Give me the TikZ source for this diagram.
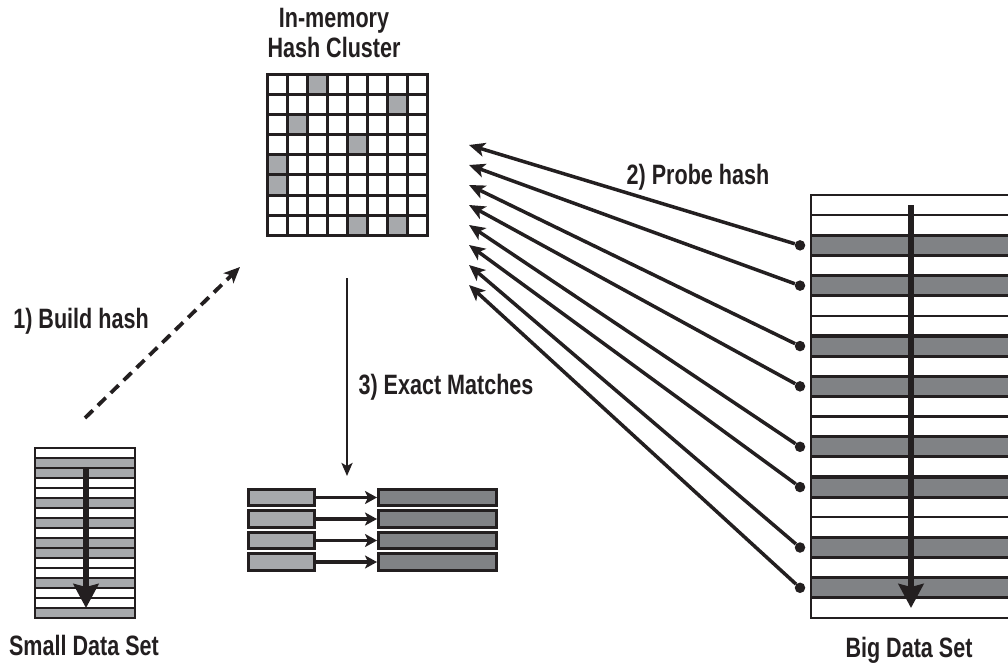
\documentclass[tikz,border=0pt]{standalone}
\usepackage{fontspec}
\setmainfont{Liberation Sans Bold}[FakeStretch=0.77]
\usetikzlibrary{arrows.meta}
\definecolor{ink}{RGB}{35,31,32}
\definecolor{lightfill}{RGB}{167,169,172}
\definecolor{darkfill}{RGB}{128,130,133}
\tikzset{
  lbl/.style={font=\fontsize{28}{32}\selectfont, text=ink, inner sep=0pt, anchor=base},
  gridline/.style={draw=ink, line width=3pt, line cap=rect},
  rowline/.style={draw=ink, line width=2.8pt},
  scanarrow/.style={draw=ink, line width=6.5pt, -{Stealth[length=24pt,width=25pt,inset=3pt]}},
  probe/.style={draw=ink, line width=3.5pt, -{Stealth[length=16pt,width=14pt,inset=4pt]}},
  dot/.style={circle, fill=ink, inner sep=0pt, minimum size=10.5pt},
  buildarrow/.style={draw=ink, line width=3.8pt, dash pattern=on 11pt off 7pt, -{Stealth[length=16pt,width=14pt,inset=4pt]}},
  downarrow/.style={draw=ink, line width=2.6pt, -{Stealth[length=13pt,width=11pt,inset=3pt]}},
  matcharrow/.style={draw=ink, line width=3.5pt, -{Stealth[length=12pt,width=13pt,inset=3pt]}},
  keybox/.style={draw=ink, line width=3pt, fill=lightfill, minimum width=66pt, minimum height=16.5pt, inner sep=0pt},
  rowbox/.style={draw=ink, line width=3pt, fill=darkfill, minimum width=118pt, minimum height=16.5pt, inner sep=0pt},
}
\begin{document}
\begin{tikzpicture}[x=1pt,y=-1pt]
\useasboundingbox (0,0) rectangle (1008,663);

% ---- in-memory hash cluster: 8x8 bucket grid ----
\node[lbl] (title) at (334,28) {In-memory};
\node[lbl] (title2) at (334,58) {Hash Cluster};
\foreach \r/\c in {0/2,1/6,2/1,3/4,4/0,5/0,7/4,7/6}
  \fill[lightfill] (267+20*\c,75+20*\r) rectangle ++(20,20);
\foreach \i in {0,...,8} {
  \draw[gridline] (267+20*\i,75) -- (267+20*\i,235);
  \draw[gridline] (267,75+20*\i) -- (427,75+20*\i);
}

% ---- small data set ----
\foreach \k in {1,2,5,7,9,10,13,16}
  \fill[lightfill] (35,448+10*\k) rectangle ++(100,10);
\foreach \k in {1,...,16}
  \draw[rowline] (35,448+10*\k) -- (135,448+10*\k);
\draw[rowline] (35,448) rectangle (135,618);
\coordinate (sstart) at (86,468);
\coordinate (send) at (86,608);
\draw[scanarrow] (sstart) -- (send);
\node[lbl] (smalllbl) at (84,655) {Small Data Set};

% ---- step 1: build hash ----
\coordinate (bfrom) at (85,418);
\coordinate (bto) at (240,267);
\draw[buildarrow] (bfrom) -- (bto);
\node[lbl] (buildlbl) at (81,328) {1) Build hash};

% ---- step 3: exact matches ----
\coordinate (mtop) at (347,278);
\coordinate (mbot) at (347,476);
\draw[downarrow] (mtop) -- (mbot);
\node[lbl] (exactlbl) at (446,394) {3) Exact Matches};
\foreach \i in {1,...,4} {
  \node[keybox] (k\i) at (281.5,497.5+21.5*\i-21.5) {};
  \node[rowbox] (m\i) at (437.5,497.5+21.5*\i-21.5) {};
  \draw[matcharrow] (k\i.east) -- (m\i.west);
}

% ---- big data set ----
\begin{scope}
  \clip (790,185) rectangle (1008,630);
  \foreach \k in {2,4,7,9,12,14,17,19}
    \fill[darkfill] (811,195+20.143*\k) rectangle (1020,195+20.143*\k+20.143);
  \foreach \k in {1,...,20}
    \draw[draw=ink, line width=2.4pt] (811,195+20.143*\k) -- (1020,195+20.143*\k);
  \foreach \k in {2,4,7,9,12,14,17,19} {
    \draw[draw=ink, line width=3.2pt] (811,195+20.143*\k) -- (1020,195+20.143*\k);
    \draw[draw=ink, line width=3.2pt] (811,215.143+20.143*\k) -- (1020,215.143+20.143*\k);
  }
  \draw[draw=ink, line width=2.6pt] (1020,195) -- (811,195) -- (811,618) -- (1020,618);
\end{scope}
\coordinate (bstart) at (911,205);
\coordinate (bend) at (911,608);
\draw[scanarrow] (bstart) -- (bend);
\node[lbl] (biglbl) at (909,657) {Big Data Set};

% ---- step 2: probe hash from matching rows ----
\foreach \i/\k in {1/2,2/4,3/7,4/9,5/12,6/14,7/17,8/19} {
  \node[dot] (d\i) at (800,205.07+20.143*\k) {};
  \coordinate (t\i) at (469,145+20*\i-20);
  \draw[probe] (d\i) -- (t\i);
}
\node[lbl] (probelbl) at (698,184) {2) Probe hash};
\end{tikzpicture}
\end{document}
